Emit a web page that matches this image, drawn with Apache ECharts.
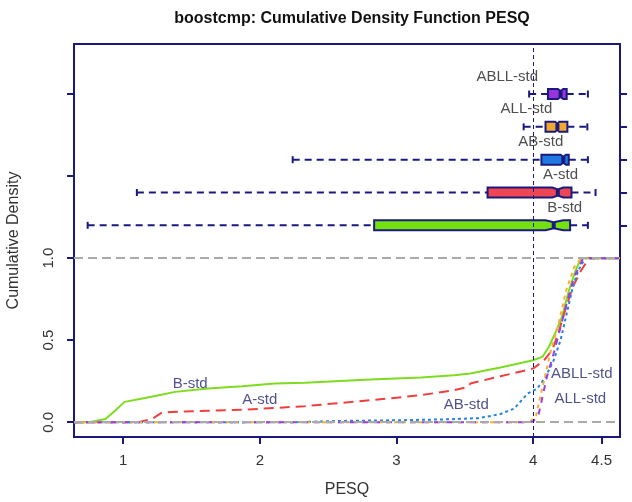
<!DOCTYPE html>
<html>
<head>
<meta charset="utf-8">
<script src="https://cdn.jsdelivr.net/npm/echarts@6/dist/echarts.min.js"></script>
<style>
  html, body { margin: 0; padding: 0; background: #fff; }
  #main { width: 632px; height: 502px; }
</style>
</head>
<body>
<div id="main"></div>
<script>
var myChart = echarts.init(document.getElementById('main'));

// series names, colours
var names = ['B-std', 'A-std', 'AB-std', 'ALL-std', 'ABLL-std'];
var lineColors = ['#7ddc1f', '#ee3f3f', '#2384dc', '#f5b236', '#9b3fe0'];
var boxColors = ['#74e010', '#f04552', '#1e7ae0', '#f0aa30', '#9933dd'];

var cdfB_x = [0.64, 0.75, 0.87, 0.94, 1.01, 1.14, 1.26, 1.38, 1.62, 1.87, 2.11, 2.33, 2.81, 3.18, 3.42, 3.54, 3.76, 4.0, 4.07, 4.115, 4.165, 4.21, 4.26, 4.31, 4.35, 4.635];
var cdfB_y = [0, 0, 0.02, 0.07, 0.124, 0.145, 0.165, 0.185, 0.205, 0.22, 0.236, 0.24, 0.26, 0.273, 0.287, 0.297, 0.333, 0.378, 0.40, 0.46, 0.55, 0.64, 0.80, 0.925, 1.0, 1.0];
var cdfA_x = [0.64, 1.11, 1.21, 1.28, 1.35, 1.62, 1.87, 2.11, 2.33, 2.81, 3.18, 3.42, 3.52, 3.54, 3.76, 4.0, 4.08, 4.14, 4.19, 4.24, 4.29, 4.35, 4.41, 4.635];
var cdfA_y = [0, 0, 0.02, 0.057, 0.063, 0.07, 0.076, 0.087, 0.098, 0.134, 0.165, 0.195, 0.215, 0.236, 0.28, 0.327, 0.378, 0.44, 0.56, 0.70, 0.825, 0.925, 1.0, 1.0];
var cdfAB_x = [0.64, 2.24, 2.6, 3.0, 3.4, 3.6, 3.7, 3.76, 3.86, 3.96, 4.03, 4.09, 4.15, 4.2, 4.25, 4.29, 4.33, 4.38, 4.635];
var cdfAB_y = [0, 0, 0.008, 0.012, 0.018, 0.025, 0.04, 0.05, 0.083, 0.175, 0.205, 0.276, 0.378, 0.5, 0.68, 0.825, 0.925, 1.0, 1.0];
var cdfALL_x = [0.64, 3.93, 3.98, 4.02, 4.08, 4.13, 4.18, 4.24, 4.30, 4.35, 4.635];
var cdfALL_y = [0, 0, 0.005, 0.04, 0.256, 0.44, 0.58, 0.80, 0.945, 1.0, 1.0];
var cdfABLL_x = [0.64, 3.97, 4.0, 4.04, 4.10, 4.15, 4.2, 4.25, 4.30, 4.36, 4.40, 4.635];
var cdfABLL_y = [0, 0, 0.005, 0.05, 0.276, 0.42, 0.58, 0.74, 0.886, 0.99, 1.0, 1.0];

// boxplot rows (same order as names)
var boxRow = [1.2, 1.4, 1.6, 1.8, 2.0];
var whiskLo = [0.74, 1.10, 2.24, 3.93, 3.97];
var q1 = [2.836, 3.666, 4.06, 4.09, 4.108];
var med = [4.15, 4.18, 4.22, 4.177, 4.20];
var q3 = [4.27, 4.28, 4.26, 4.25, 4.245];
var whiskHi = [4.40, 4.456, 4.40, 4.396, 4.40];
var notchLo = [4.09, 4.14, 4.20, 4.16, 4.18];
var notchHi = [4.22, 4.22, 4.24, 4.19, 4.22];
var boxLabelX = [4.23, 4.20, 4.055, 3.95, 3.81];

// curve labels
var curveLabelX = [1.49, 2.0, 3.51, 4.345, 4.355];
var curveLabelY = [0.236, 0.134, 0.104, 0.145, 0.293];

var xTicks = [1, 2, 3, 4, 4.5];
var yLabelTicks = [0, 0.5, 1];
var yTicks = [0, 0.5, 1, 1.5, 2];

var navy = '#1a1a7e';
var font = 'Liberation Sans, Arial, sans-serif';

function zip(xs, ys) {
    return xs.map(function (x, i) { return [x, ys[i]]; });
}
var cdfData = [zip(cdfB_x, cdfB_y), zip(cdfA_x, cdfA_y), zip(cdfAB_x, cdfAB_y),
               zip(cdfALL_x, cdfALL_y), zip(cdfABLL_x, cdfABLL_y)];
var dashes = ['solid', [10, 6], [3, 3], [4, 4], [6, 6]];

var boxData = names.map(function (n, i) {
    return [boxRow[i], whiskLo[i], q1[i], med[i], q3[i], whiskHi[i], notchLo[i], notchHi[i]];
});

function renderBox(params, api) {
    var i = params.dataIndex;
    var row = api.value(0);
    var pLo = api.coord([api.value(1), row]);
    var pQ1 = api.coord([api.value(2), row]);
    var pMed = api.coord([api.value(3), row]);
    var pQ3 = api.coord([api.value(4), row]);
    var pHi = api.coord([api.value(5), row]);
    var pNl = api.coord([Math.max(api.value(6), api.value(2)), row]);
    var pNh = api.coord([Math.min(api.value(7), api.value(4)), row]);
    var y = pMed[1], h = 5, inset = 2;
    var dash = { stroke: navy, lineWidth: 2, lineDash: [7, 5] };
    return {
        type: 'group',
        children: [
            { type: 'line', shape: { x1: pLo[0], y1: y, x2: pQ1[0], y2: y }, style: dash },
            { type: 'line', shape: { x1: pQ3[0], y1: y, x2: pHi[0], y2: y }, style: dash },
            { type: 'line', shape: { x1: pLo[0], y1: y - 3.5, x2: pLo[0], y2: y + 3.5 }, style: { stroke: navy, lineWidth: 2 } },
            { type: 'line', shape: { x1: pHi[0], y1: y - 3.5, x2: pHi[0], y2: y + 3.5 }, style: { stroke: navy, lineWidth: 2 } },
            {
                type: 'polygon',
                shape: { points: [
                    [pQ1[0], y - h], [pNl[0], y - h], [pMed[0], y - h + inset], [pNh[0], y - h], [pQ3[0], y - h],
                    [pQ3[0], y + h], [pNh[0], y + h], [pMed[0], y + h - inset], [pNl[0], y + h], [pQ1[0], y + h]
                ] },
                style: { fill: boxColors[i], stroke: navy, lineWidth: 2 }
            },
            { type: 'line', shape: { x1: pMed[0], y1: y - h + inset, x2: pMed[0], y2: y + h - inset }, style: { stroke: navy, lineWidth: 4 } }
        ]
    };
}

var series = [{
    type: 'line',
    data: [],
    silent: true,
    markLine: {
        silent: true,
        symbol: 'none',
        label: { show: false },
        lineStyle: { color: '#aaaaaa', type: [9, 5], width: 2 },
        data: [{ yAxis: 0 }, { yAxis: 1 }]
    }
}, {
    type: 'line',
    data: [],
    silent: true,
    z: 5,
    markLine: {
        silent: true,
        symbol: 'none',
        label: { show: false },
        lineStyle: { color: navy, type: [4, 3], width: 1 },
        data: [{ xAxis: 4 }]
    }
}];

names.forEach(function (n, i) {
    series.push({
        name: n,
        type: 'line',
        data: cdfData[i],
        showSymbol: false,
        lineStyle: { color: lineColors[i], width: 2, type: dashes[i] },
        z: 3
    });
});

series.push({
    type: 'custom',
    renderItem: renderBox,
    data: boxData,
    z: 4
});

// box labels
series.push({
    type: 'scatter',
    symbolSize: 0,
    data: names.map(function (n, i) { return [boxLabelX[i], boxRow[i] + 0.107, n]; }),
    label: {
        show: true, position: 'inside',
        formatter: function (p) { return p.value[2]; },
        color: '#222', fontSize: 15, fontFamily: font
    },
    z: 6
});

// curve labels
series.push({
    type: 'scatter',
    symbolSize: 0,
    data: names.map(function (n, i) { return [curveLabelX[i], curveLabelY[i], n]; }),
    label: {
        show: true, position: 'inside',
        formatter: function (p) { return p.value[2]; },
        color: '#26266e', fontSize: 15, fontFamily: font
    },
    z: 6
});

option = {
    animation: false,
    backgroundColor: '#fff',
    title: {
        text: 'boostcmp: Cumulative Density Function PESQ',
        left: 347,
        textAlign: 'center',
        top: 6,
        textStyle: { fontSize: 16, fontWeight: 'bold', color: '#111', fontFamily: font }
    },
    grid: {
        left: 74, right: 12, top: 44, bottom: 65,
        outerBoundsMode: 'none',
        show: true, borderColor: navy, borderWidth: 2
    },
    xAxis: {
        type: 'value',
        position: 'bottom',
        min: 0.64, max: 4.635,
        name: 'PESQ', nameLocation: 'middle', nameGap: 45,
        nameTextStyle: { fontSize: 16, color: '#333', fontFamily: font },
        axisLine: { show: false, onZero: false },
        splitLine: { show: false },
        axisTick: { show: true, inside: false, length: 7, customValues: xTicks, lineStyle: { color: navy, width: 2 } },
        axisLabel: { customValues: xTicks, margin: 16, fontSize: 15, color: '#333', fontFamily: font }
    },
    yAxis: [{
        type: 'value',
        min: -0.09, max: 2.305,
        name: 'Cumulative Density', nameLocation: 'middle', nameGap: 52, nameRotate: 90,
        nameTextStyle: { fontSize: 16, color: '#333', fontFamily: font },
        axisLine: { show: false, onZero: false },
        splitLine: { show: false },
        axisTick: { show: true, inside: false, length: 7, customValues: yTicks, lineStyle: { color: navy, width: 2 } },
        axisLabel: {
            customValues: yLabelTicks, rotate: 90, margin: 18, fontSize: 15, color: '#333', fontFamily: font,
            formatter: function (v) { return v.toFixed(1); }
        }
    }, {
        type: 'value',
        position: 'right',
        min: -0.09, max: 2.305,
        axisLine: { show: false, onZero: false },
        splitLine: { show: false },
        axisTick: { show: true, inside: false, length: 7, customValues: boxRow, lineStyle: { color: navy, width: 2 } },
        axisLabel: { show: false }
    }],
    series: series
};
myChart.setOption(option);
</script>
</body>
</html>
